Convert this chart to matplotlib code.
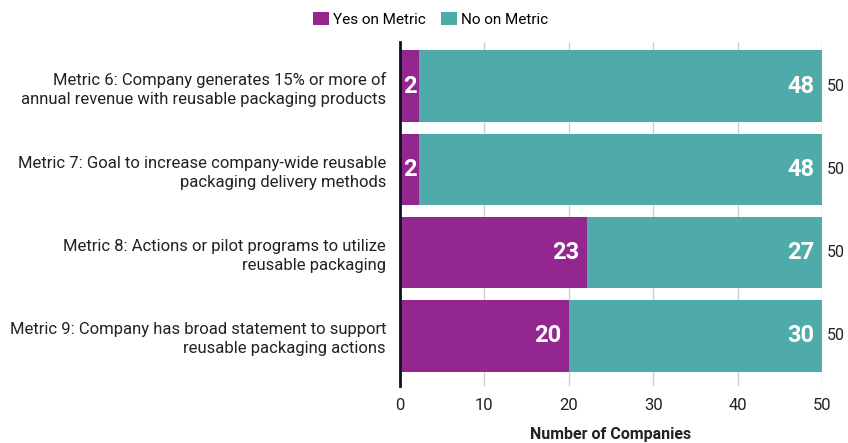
import matplotlib
matplotlib.use('Agg')
import matplotlib.pyplot as plt

plt.rcParams['font.family'] = ['Roboto', 'DejaVu Sans']

categories = [
    'Metric 6: Company generates 15% or more of\nannual revenue with reusable packaging products',
    'Metric 7: Goal to increase company-wide reusable\npackaging delivery methods',
    'Metric 8: Actions or pilot programs to utilize\nreusable packaging',
    'Metric 9: Company has broad statement to support\nreusable packaging actions',
]
# numbers printed on the bars
yes_labels = [2, 2, 23, 20]
no_labels = [48, 48, 27, 30]
# bar lengths as drawn in the source chart (metric 8 purple stops near 22)
yes_bars = [2.3, 2.3, 22.1, 20]
totals = [50, 50, 50, 50]

PURPLE = '#93278F'
TEAL = '#4EABAA'

fig = plt.figure(figsize=(8.48, 4.43), dpi=100)
ax = fig.add_axes([0.4717, 0.129, 0.4976, 0.776])

ypos = list(range(len(categories)))
no_bars = [t - y for t, y in zip(totals, yes_bars)]
ax.barh(ypos, yes_bars, height=0.86, color=PURPLE, label='Yes on Metric', zorder=2)
ax.barh(ypos, no_bars, left=yes_bars, height=0.86, color=TEAL, label='No on Metric', zorder=2)

for i in ypos:
    if yes_labels[i] < 5:
        ax.text(yes_bars[i] / 2 + 0.05, i, str(yes_labels[i]), ha='center', va='center',
                color='white', fontsize=17, fontweight='bold', zorder=3)
    else:
        ax.text(yes_bars[i] - 0.9, i, str(yes_labels[i]), ha='right', va='center',
                color='white', fontsize=17, fontweight='bold', zorder=3)
    ax.text(totals[i] - 0.9, i, str(no_labels[i]), ha='right', va='center',
            color='white', fontsize=17, fontweight='bold', zorder=3)
    ax.text(totals[i] + 0.6, i, str(totals[i]), ha='left', va='center',
            color='#222222', fontsize=11.5)

ax.set_ylim(len(categories) - 1 + 0.6, -0.53)
ax.set_xlim(0, 50)
ax.set_yticks(ypos)
ax.set_yticklabels(categories, fontsize=12, color='#222222', linespacing=1.3)
ax.set_xticks([0, 10, 20, 30, 40, 50])
ax.tick_params(axis='x', length=0, labelsize=12, colors='#222222', pad=9)
ax.tick_params(axis='y', length=0, pad=10)
ax.grid(axis='x', color='#d0d0d0', linewidth=1, zorder=0)
for s in ['top', 'right', 'bottom']:
    ax.spines[s].set_visible(False)
ax.spines['left'].set_linewidth(2)
ax.spines['left'].set_color('#111122')
ax.spines['left'].set_zorder(4)

ax.set_xlabel('Number of Companies', fontsize=11.5, fontweight='bold', color='#222222', labelpad=10)

fig.legend(loc='upper center', bbox_to_anchor=(0.508, 1.005), ncol=2, frameon=False,
           fontsize=11, handlelength=1.0, handleheight=1.0, handletextpad=0.3,
           columnspacing=1.0)

fig.savefig('out.png', dpi=100)
